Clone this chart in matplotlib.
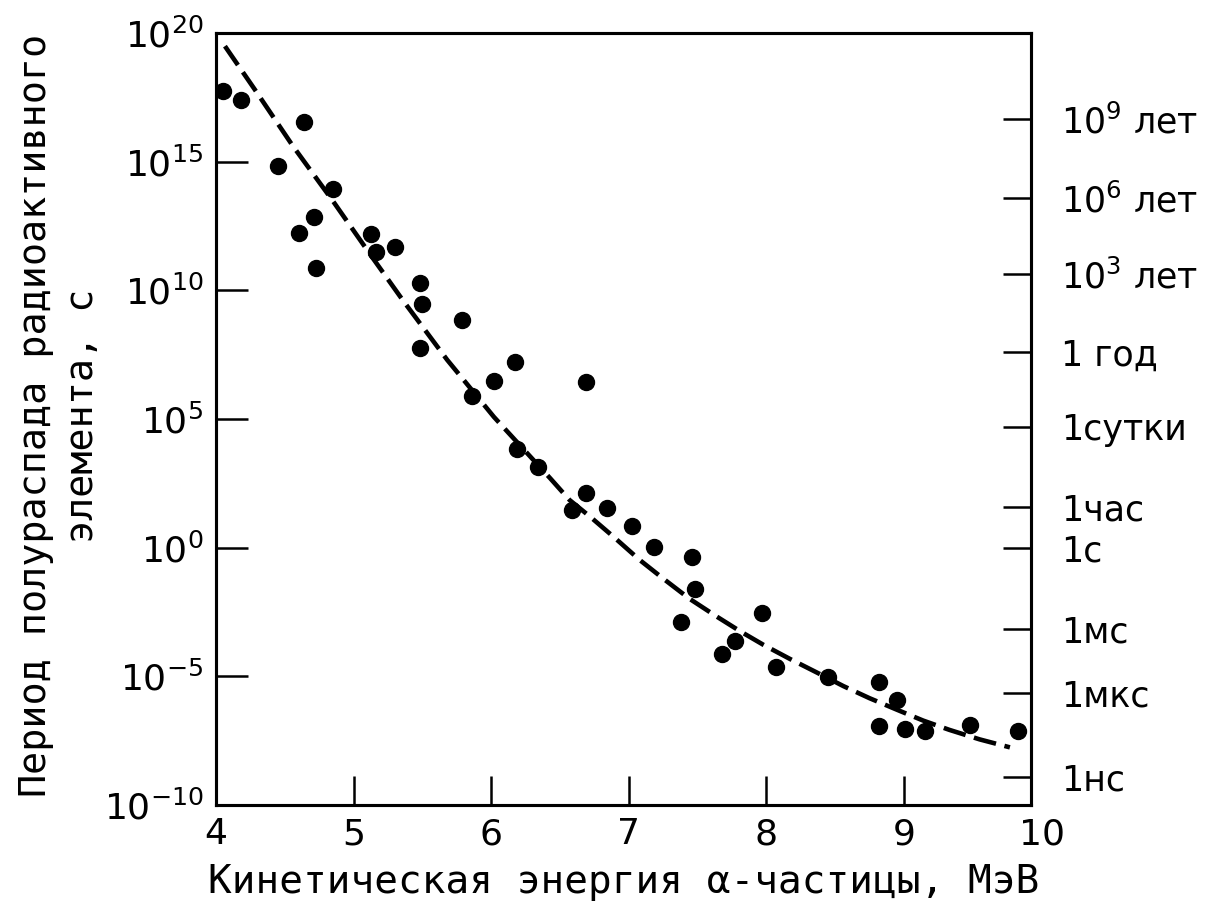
import matplotlib
matplotlib.use("Agg")
import matplotlib.pyplot as plt
import numpy as np

# alpha energy, MeV  /  log10 of half-life in seconds
energy = [4.05, 4.18, 4.64, 4.45, 4.85, 4.71, 4.60, 4.73, 5.13, 5.16,
          5.30, 5.48, 5.50, 5.79, 5.48, 6.17, 6.02, 6.69, 5.86, 6.19,
          6.34, 6.69, 6.59, 6.84, 7.02, 7.18, 7.46, 7.48, 7.38, 7.97,
          7.77, 7.68, 8.07, 8.45, 8.82, 8.95, 8.82, 9.01, 9.15, 9.48, 9.83]
log_halflife = [17.76, 17.40, 16.54, 14.84, 13.93, 12.84, 12.24, 10.86, 12.19, 11.50,
                11.69, 10.27, 9.47, 8.85, 7.77, 7.22, 6.46, 6.44, 5.89, 3.83,
                3.14, 2.14, 1.45, 1.55, 0.84, 0.03, -0.38, -1.62, -2.89, -2.53,
                -3.62, -4.13, -4.63, -5.02, -5.21, -5.92, -6.93, -7.06, -7.13, -6.89, -7.13]

# dashed trend curve
fit_energy = [4.065, 4.28, 4.56, 4.85, 5.14, 5.36, 5.68, 6.02, 6.43, 6.57,
              6.72, 6.89, 7.08, 7.25, 7.44, 7.64, 7.81, 7.98, 8.17, 8.37,
              8.56, 8.75, 8.95, 9.14, 9.33, 9.55, 9.77]
fit_log_halflife = [19.49, 17.82, 15.6, 13.47, 11.25, 9.6, 7.3, 5.08, 2.69, 1.85,
                    1.20, 0.42, -0.48, -1.20, -1.98, -2.68, -3.25, -3.78, -4.32, -4.86,
                    -5.38, -5.85, -6.30, -6.72, -7.08, -7.45, -7.76]

left_exp = [-10, -5, 0, 5, 10, 15, 20]
x_ticks = [4, 5, 6, 7, 8, 9]

right_tick_log = [16.65, 13.59, 10.63, 7.60, 4.69, 1.58, 0.0, -3.16, -5.65, -8.92]
right_tick_labels = [r"$10^9$ лет", r"$10^6$ лет", r"$10^3$ лет", "1 год", "1сутки",
                     "1час", "1с", "1мс", "1мкс", "1нс"]

fig = plt.figure(figsize=(12.08, 9.05), dpi=100)
ax = fig.add_axes([0.1788, 0.1105, 0.6743, 0.853])

ax.plot(fit_energy, 10.0 ** np.array(fit_log_halflife), color="black", lw=3.3,
        dashes=(5, 1.9))
ax.plot(energy, 10.0 ** np.array(log_halflife), "o", color="black", ms=11.5)

ax.set_yscale("log")
ax.set_ylim(1e-10, 1e20)
ax.set_xlim(4, 9.92)

ax.set_yticks([10.0 ** e for e in left_exp])
ax.set_yticklabels([r"$10^{%d}$" % e for e in left_exp])
ax.minorticks_off()
ax.set_xticks(x_ticks)
ax.set_xticklabels([str(t) for t in x_ticks])
ax.tick_params(direction="in", length=21, width=1.8, labelsize=26, pad=9,
               top=False, right=False)
ax.tick_params(axis="y", length=23)
ax.annotate("10", xy=(10, 0), xycoords=("data", "axes fraction"),
            xytext=(0, -9), textcoords="offset points", ha="center", va="top",
            fontsize=26, annotation_clip=False)

for s in ax.spines.values():
    s.set_linewidth(2.2)

ax2 = ax.twinx()
ax2.set_yscale("log")
ax2.set_ylim(1e-10, 1e20)
ax2.set_yticks([10.0 ** v for v in right_tick_log])
ax2.set_yticklabels(right_tick_labels)
ax2.minorticks_off()
ax2.tick_params(direction="in", length=20, width=1.8, labelsize=25, pad=22)
for s in ax2.spines.values():
    s.set_linewidth(2.2)

ax.set_xlabel("Кинетическая энергия α-частицы, МэВ", family="DejaVu Sans Mono",
              fontsize=28.4, labelpad=8)
fig.text(0.049, 0.541, "Период полураспада радиоактивного\nэлемента, с",
         family="DejaVu Sans Mono", fontsize=27.6, rotation=90,
         ha="center", va="center", multialignment="center", linespacing=1.4)

fig.savefig("out.png", dpi=100, facecolor="white")
